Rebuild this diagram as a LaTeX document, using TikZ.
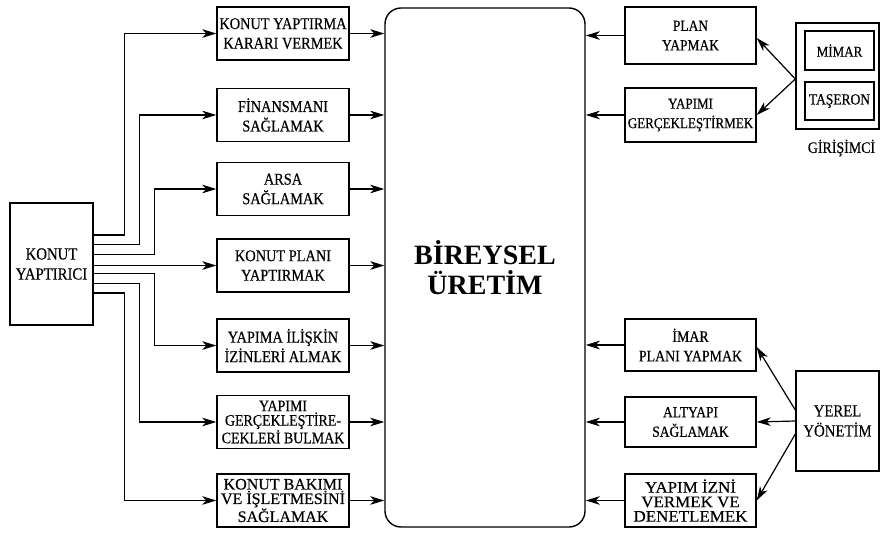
\documentclass[tikz,border=0pt]{standalone}
\usepackage{fontspec}
\setmainfont{Liberation Serif}[FakeStretch=0.87,FakeBold=0.4]
\newfontfamily\widefont{Liberation Serif}[FakeStretch=1.0,FakeBold=0.4]
\newfontfamily\widerfont{Liberation Serif}[FakeStretch=1.06,FakeBold=0.4]
\newfontfamily\titlefont{Liberation Serif}
\usetikzlibrary{arrows.meta,calc}
\newcommand{\fs}[2]{\fontsize{#1}{#2}\selectfont}
\begin{document}
\begin{tikzpicture}[x=1pt,y=-1pt,
  box/.style={draw, line width=1.4pt, minimum width=132pt, minimum height=53pt,
    align=center, inner sep=0pt, font=\fs{16.5}{19.5}},
  arr/.style={line width=1.2pt, -{Stealth[length=14pt,width=8.5pt,inset=4pt]}}]
\useasboundingbox[fill=white] (0,0) rectangle (880,534);

% central block
\node[draw, line width=1.4pt, rounded corners=16pt, minimum width=200pt,
  minimum height=519pt, align=center, inner sep=0pt,
  font=\titlefont\bfseries\fs{28}{30}] (C) at (485,267.5)
  {BİREYSEL\\ÜRETİM};

% client
\node[box, minimum width=83pt, minimum height=122pt, font=\fs{17}{20}] (K) at (51.5,264) {KONUT\\YAPTIRICI};

% tasks of the client
\node[box] (b1) at (283,33.5) {KONUT YAPTIRMA\\KARARI VERMEK};
\node[box] (b2) at (283,115) {FİNANSMANI\\SAĞLAMAK};
\node[box] (b3) at (283,189) {ARSA\\SAĞLAMAK};
\node[box] (b4) at (283,265.5) {KONUT PLANI\\YAPTIRMAK};
\node[box] (b5) at (283,345.5) {YAPIMA İLİŞKİN\\İZİNLERİ ALMAK};
\node[box, font=\fs{16}{14.5}] (b6) at (283,422) {YAPIMI\\GERÇEKLEŞTİRE-\\CEKLERİ BULMAK};
\node[box, font=\widefont\fs{16}{14.5}] (b7) at (283,500.5) {KONUT BAKIMI\\VE İŞLETMESİNİ\\SAĞLAMAK};

% tasks of the entrepreneur
\node[box, minimum width=131pt, minimum height=57pt, font=\fs{15.5}{19.5}] (p1) at (690.5,35.5) {PLAN\\YAPMAK};
\node[box, minimum width=131pt, minimum height=54pt, font=\fs{15}{19.5}] (p2) at (690.5,115) {YAPIMI\\GERÇEKLEŞTİRMEK};

% tasks of the local government
\node[box, minimum width=131pt, minimum height=52pt, font=\fs{16}{19.5}] (r1) at (690.5,345) {İMAR\\PLANI YAPMAK};
\node[box, minimum width=131pt, minimum height=50pt, font=\fs{15.5}{19.5}] (r2) at (690.5,422) {ALTYAPI\\SAĞLAMAK};
\node[box, minimum width=131pt, font=\widerfont\fs{16}{14.5}] (r3) at (690.5,500.5) {YAPIM İZNİ\\VERMEK VE\\DENETLEMEK};

% entrepreneur group
\node[draw, line width=1.4pt, minimum width=83pt, minimum height=106pt, inner sep=0pt] (G) at (837.5,76) {};
\node[box, minimum width=69pt, minimum height=39pt, font=\fs{15}{19.5}] (m1) at (839.5,50.5) {MİMAR};
\node[box, minimum width=69pt, minimum height=38pt, font=\fs{15.5}{19.5}] (m2) at (839.5,101) {TAŞERON};
\node[font=\fs{16}{19.5}, inner sep=0pt] (gl) at (841.5,148) {GİRİŞİMCİ};

% local government
\node[box, minimum width=83pt, minimum height=100pt, font=\fs{17}{20}] (Y) at (837.5,421) {YEREL\\YÖNETİM};

% client to its tasks
\draw[arr] ($(K.east)+(0,-29)$) -| ($(b1.west)+(-92,0)$) -- (b1.west);
\draw[arr] ($(K.east)+(0,-19.3)$) -| ($(b2.west)+(-77,0)$) -- (b2.west);
\draw[arr] ($(K.east)+(0,-9.7)$) -| ($(b3.west)+(-62,0)$) -- (b3.west);
\draw[arr] (K.east |- b4.west) -- (b4.west);
\draw[arr] ($(K.east)+(0,9.7)$) -| ($(b5.west)+(-62,0)$) -- (b5.west);
\draw[arr] ($(K.east)+(0,19.3)$) -| ($(b6.west)+(-77,0)$) -- (b6.west);
\draw[arr] ($(K.east)+(0,29)$) -| ($(b7.west)+(-92,0)$) -- (b7.west);

% tasks into the central block
\foreach \b in {b1,b2,b3,b4,b5,b6,b7}
  \draw[arr] (\b.east) -- (\b.east -| C.west);
\foreach \b in {p1,p2,r1,r2,r3}
  \draw[arr] (\b.west) -- (\b.west -| C.east);

% actors to their tasks
\draw[arr] ($(G.west)+(0,3)$) -- ($(p1.east)+(0,2.5)$);
\draw[arr] ($(G.west)+(0,3)$) -- (p2.east);
\draw[arr] ($(Y.west)+(0,-11)$) -- ($(r1.east)+(0,2)$);
\draw[arr] (Y.west) -- (r2.east);
\draw[arr] ($(Y.west)+(0,13)$) -- (r3.east);
\end{tikzpicture}
\end{document}
